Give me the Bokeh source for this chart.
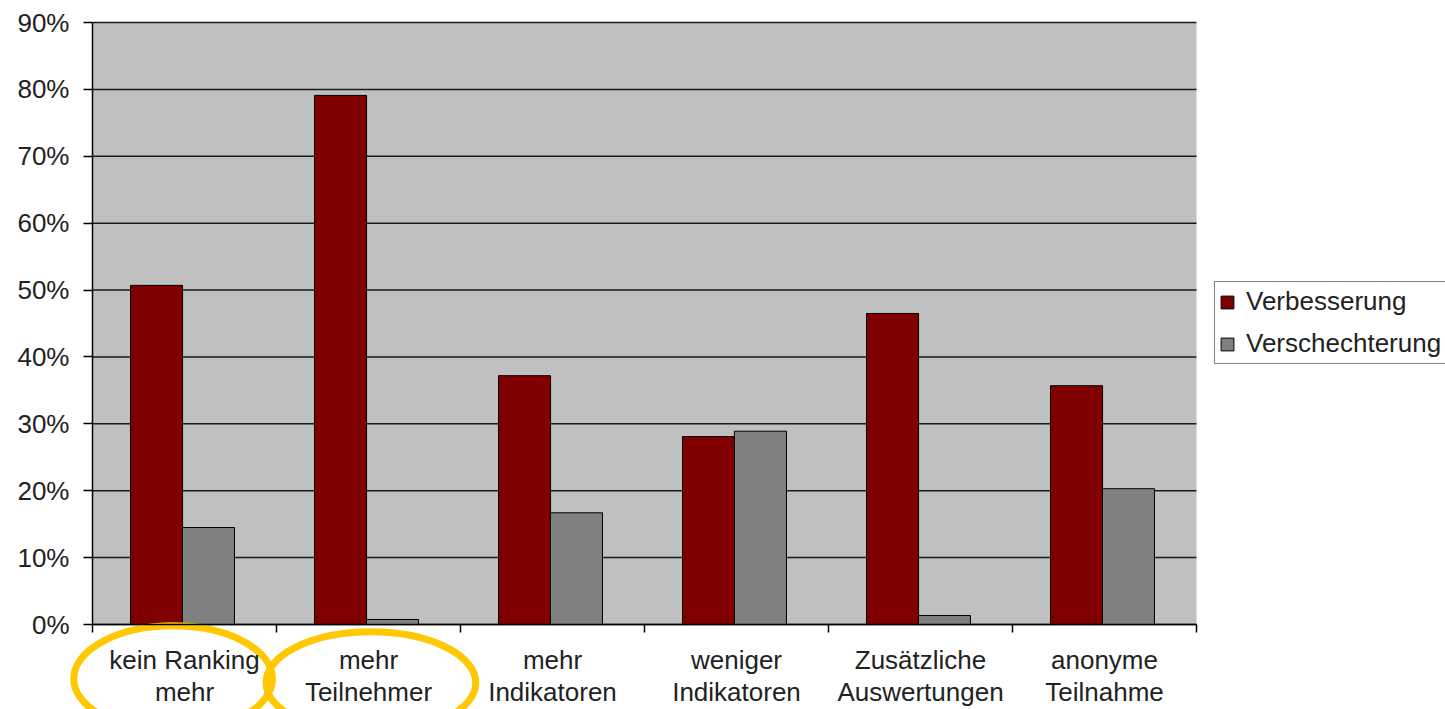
import numpy as np
from bokeh.plotting import figure
from bokeh.models import (ColumnDataSource, FixedTicker, Legend, LegendItem,
                          Range1d, BoxAnnotation)
from bokeh.embed import file_html
from bokeh.resources import INLINE

categories = ["kein Ranking\nmehr", "mehr\nTeilnehmer", "mehr\nIndikatoren",
              "weniger\nIndikatoren", "Zusätzliche\nAuswertungen", "anonyme\nTeilnahme"]
verbesserung = [50.7, 79.1, 37.2, 28.1, 46.5, 35.7]
verschlechterung = [14.5, 0.75, 16.7, 28.9, 1.35, 20.3]
y_ticks = [0, 10, 20, 30, 40, 50, 60, 70, 80, 90]
y_labels = ["0%", "10%", "20%", "30%", "40%", "50%", "60%", "70%", "80%", "90%"]
series_names = ["Verbesserung", "Verschechterung"]
highlighted = [0, 1]  # categories circled in yellow

FONT = "Liberation Sans"
FS = "26px"
W, H = 1445, 709
# pixel geometry of the plotting area inside the canvas
PL, PR, PT, PB = 92, 1196, 22, 624

n = len(categories)
ymax = 90
sx = (PR - PL) / n
sy = (PB - PT) / ymax
x_range = Range1d(-PL / sx, (W - PL) / sx)
y_range = Range1d(-(H - PB) / sy, PB / sy)

idx = np.arange(n)
src = ColumnDataSource(dict(
    xr=idx + 0.348, xg=idx + 0.630,
    v=verbesserung, s=verschlechterung,
))

p = figure(width=W, height=H, output_backend="svg", toolbar_location=None,
           x_range=x_range, y_range=y_range, min_border=0,
           background_fill_color="white", border_fill_color="white",
           outline_line_color=None)
p.xgrid.visible = False
p.ygrid.visible = False

# grey plotting area
p.add_layout(BoxAnnotation(left=0, right=n, bottom=0, top=ymax,
                           fill_color="#C0C0C0", fill_alpha=1, line_color=None,
                           level="underlay"))
# horizontal gridlines
p.segment(x0=[0] * len(y_ticks), x1=[n] * len(y_ticks), y0=y_ticks, y1=y_ticks,
          line_color="#1a1a1a", line_width=1.5)

r1 = p.vbar(x="xr", top="v", width=0.283, source=src, fill_color="#800000",
            line_color="black", line_width=1)
r2 = p.vbar(x="xg", top="s", width=0.283, source=src, fill_color="#808080",
            line_color="black", line_width=1)

# y axis
ya = p.yaxis[0]
ya.fixed_location = 0
ya.bounds = (0, ymax)
ya.ticker = FixedTicker(ticks=y_ticks)
ya.major_label_overrides = {t: l for t, l in zip(y_ticks, y_labels)}
ya.major_label_text_font = FONT
ya.major_label_text_font_size = FS
ya.major_label_text_color = "#222222"
ya.major_tick_out = 9
ya.major_tick_in = 0
ya.minor_tick_line_color = None
ya.major_label_standoff = 14
ya.axis_line_color = "black"
ya.axis_line_width = 1.5
ya.major_tick_line_width = 1.5

# x axis: labels at centres, tick marks at category boundaries
xa = p.xaxis[0]
xa.fixed_location = 0
xa.bounds = (0, n)
centers = [i + 0.5 for i in range(n)]
xa.ticker = FixedTicker(ticks=centers, minor_ticks=list(range(n + 1)))
xa.major_label_overrides = {c: l for c, l in zip(centers, categories)}
xa.major_tick_line_color = None
xa.major_tick_out = 0
xa.major_tick_in = 0
xa.minor_tick_out = 8
xa.minor_tick_in = 0
xa.minor_tick_line_width = 1.5
xa.minor_tick_line_color = "black"
xa.axis_line_color = "black"
xa.axis_line_width = 1.5
xa.major_label_text_font = FONT
xa.major_label_text_font_size = FS
xa.major_label_text_color = "#222222"
xa.major_label_standoff = 12
xa.major_label_text_line_height = 1.08

legend = Legend(items=[LegendItem(label=series_names[0], renderers=[r1]),
                       LegendItem(label=series_names[1], renderers=[r2])],
                location=(1214, H - 364), margin=0, padding=4, spacing=11,
                label_text_font=FONT, label_text_font_size=FS,
                label_text_color="#222222", glyph_width=16, glyph_height=16,
                label_standoff=11, label_height=28,
                border_line_color="black", border_line_width=1,
                background_fill_color="white")
p.add_layout(legend, "center")

# yellow highlight ellipses around the first two category labels
ellipses = [(0.438, -8.1, 1.08, 15.8), (1.513, -8.7, 1.14, 15.2)]
for k, (cx, cy, w, h) in zip(highlighted, ellipses):
    p.ellipse(x=cx, y=cy, width=w, height=h, fill_alpha=0,
              line_color="#FFC800", line_width=7)

open("out.html", "w").write(file_html(p, INLINE))
